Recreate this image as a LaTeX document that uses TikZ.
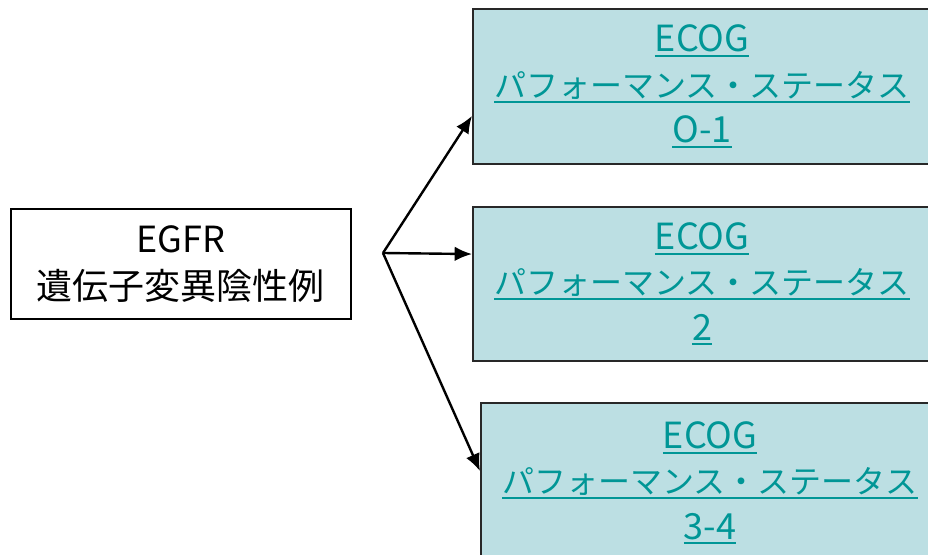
\documentclass[tikz,border=0pt]{standalone}
\usepackage{fontspec}
\setmainfont{Noto Sans CJK JP}
\usetikzlibrary{arrows.meta}
\definecolor{boxfill}{RGB}{188,223,227}
\definecolor{linktxt}{RGB}{0,150,150}
\definecolor{boxline}{RGB}{40,40,40}
\newcommand{\myul}[1]{\setbox0\hbox{#1}\rlap{\rule[-4pt]{\wd0}{1.5pt}}\box0}
\newcommand{\bigtxt}[1]{{\fontsize{27pt}{34pt}\selectfont\myul{#1}}}
\begin{document}
\begin{tikzpicture}[x=0.75pt,y=-0.75pt,
  src/.style={draw=black,line width=1.3pt,minimum width=255pt,minimum height=82.5pt,inner sep=0pt,anchor=north west,align=center,font=\fontsize{27pt}{35pt}\selectfont},
  tgt/.style={draw=boxline,fill=boxfill,line width=1.6pt,anchor=north west,inner sep=0pt,minimum width=343.5pt,align=center,text=linktxt,font=\fontsize{24pt}{34pt}\selectfont},
  conn/.style={line width=1.8pt,-{Latex[length=13pt,width=11pt]}}]
\useasboundingbox (0,0) rectangle (928,555);
\clip (0,0) rectangle (928,555);
\node[src] (egfr) at (10,208) {EGFR\\遺伝子変異陰性例};
\node[tgt,minimum height=116.25pt] (b1) at (472,8) {\bigtxt{ECOG}\\\myul{パフォーマンス・ステータス}\\\bigtxt{O-1}};
\node[tgt,minimum height=115.5pt] (b2) at (472,206) {\bigtxt{ECOG}\\\myul{パフォーマンス・ステータス}\\\bigtxt{2}};
\node[tgt,minimum height=120pt] (b3) at (480,402) {\bigtxt{ECOG}\\\myul{パフォーマンス・ステータス}\\\bigtxt{3-4}};
\coordinate (j) at (383,253);
\draw[conn] (j) -- ([yshift=-22pt]b1.west);
\draw[conn] (j) -- ([yshift=22.5pt]b2.west);
\draw[conn] (j) -- ([yshift=9pt]b3.west);
\end{tikzpicture}
\end{document}
